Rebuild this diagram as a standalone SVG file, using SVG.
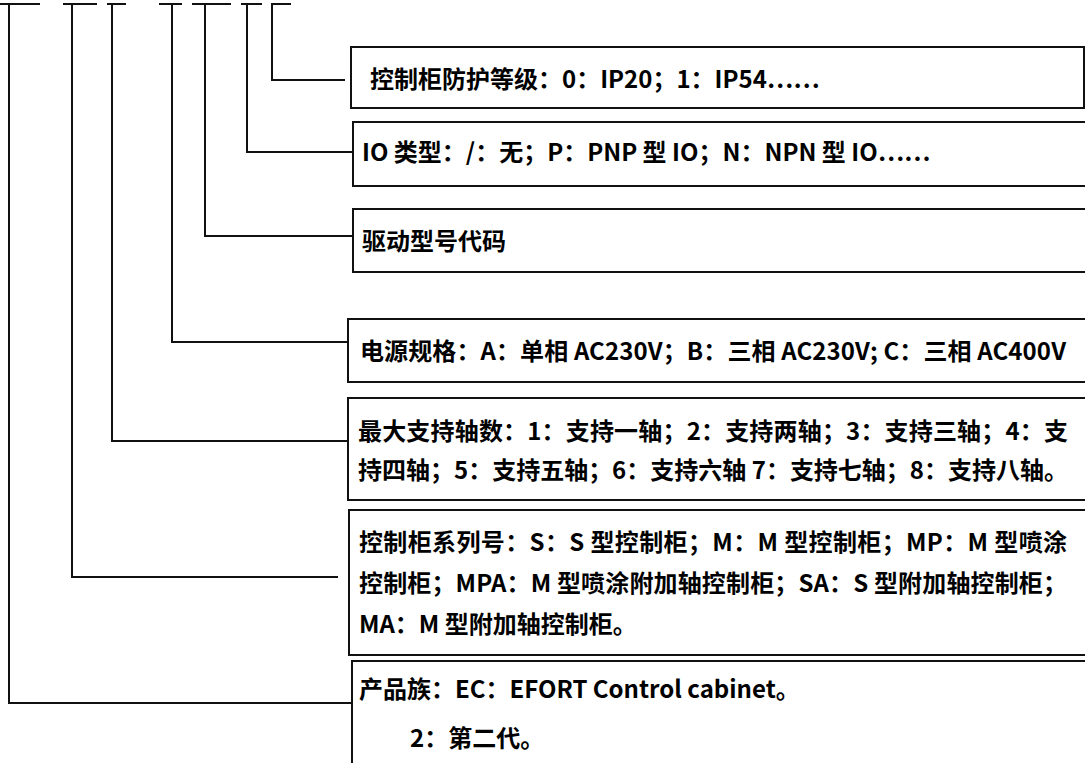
<svg xmlns="http://www.w3.org/2000/svg" width="1085" height="763" viewBox="0 0 1085 763">
<style>
.box{fill:#fff;stroke:#111;stroke-width:2}
.ln{fill:none;stroke:#111;stroke-width:2}
.t{font-family:"Noto Sans CJK SC","Noto Sans",sans-serif;font-weight:bold;font-size:24px;fill:#000}
</style>
<rect width="1085" height="763" fill="#fff"/>
<g id="connectors">
<path class="ln" d="M0 4H40M9 4V703H352"/>
<path class="ln" d="M63 4H97M72 4V577H338"/>
<path class="ln" d="M107 4H126M112 4V441H348"/>
<path class="ln" d="M159 4H182M172 4V342H348"/>
<path class="ln" d="M192 4H231M205 4V236H353"/>
<path class="ln" d="M241 4H262M247 4V152H353"/>
<path class="ln" d="M291 4H272V80H345"/>
</g>
<g id="n1"><rect class="box" x="351" y="47" width="733" height="61"/>
<text class="t" x="370" y="88">控制柜防护等级：0：IP20；1：IP54……</text></g>
<g id="n2"><rect class="box" x="353" y="122" width="740" height="64"/>
<text class="t" x="362" y="161">IO 类型：/：无；P：PNP 型 IO；N：NPN 型 IO……</text></g>
<g id="n3"><rect class="box" x="353" y="209" width="740" height="63"/>
<text class="t" x="362" y="250">驱动型号代码</text></g>
<g id="n4"><rect class="box" x="348" y="319" width="745" height="63"/>
<text class="t" x="360" y="360" textLength="706">电源规格：A：单相 AC230V；B：三相 AC230V; C：三相 AC400V</text></g>
<g id="n5"><rect class="box" x="348" y="398" width="745" height="102"/>
<text class="t" x="358" y="440" textLength="710">最大支持轴数：1：支持一轴；2：支持两轴；3：支持三轴；4：支</text>
<text class="t" x="358" y="479" textLength="710">持四轴；5：支持五轴；6：支持六轴 7：支持七轴；8：支持八轴。</text></g>
<g id="n6"><rect class="box" x="349" y="510" width="745" height="145"/>
<text class="t" x="359" y="551" textLength="708">控制柜系列号：S：S 型控制柜；M：M 型控制柜；MP：M 型喷涂</text>
<text class="t" x="359" y="592" textLength="708">控制柜；MPA：M 型喷涂附加轴控制柜；SA：S 型附加轴控制柜；</text>
<text class="t" x="359" y="633">MA：M 型附加轴控制柜。</text></g>
<g id="n7"><rect class="box" x="352" y="661" width="745" height="110"/>
<text class="t" x="359" y="698">产品族：EC：EFORT Control cabinet。</text>
<text class="t" x="410" y="747">2：第二代。</text></g>
</svg>
